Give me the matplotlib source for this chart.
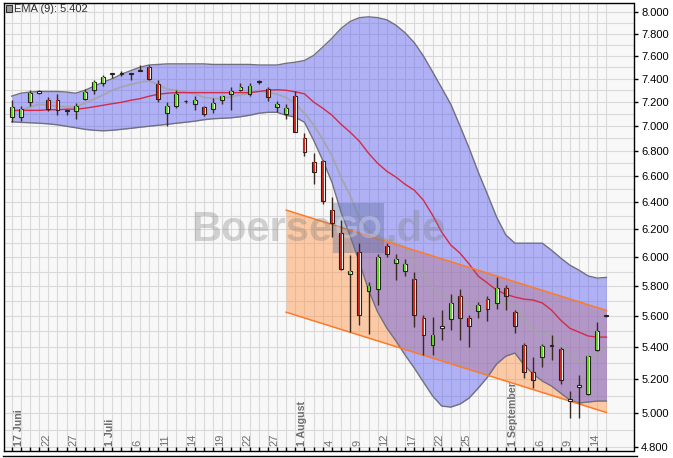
import numpy as np
import matplotlib
matplotlib.use("Agg")
import matplotlib.pyplot as plt
import matplotlib.transforms as mtransforms
from matplotlib.patches import Rectangle
from matplotlib.lines import Line2D
from matplotlib.ticker import FixedLocator, NullFormatter, FuncFormatter

plt.rcParams["font.family"] = ["Liberation Sans", "DejaVu Sans"]

# ── daily candles, trading days 16 Jun - 15 Sep 2016 (index 0..65) ─────────
opens = [7.075, 7.075, 7.20, 7.29, 7.215, 7.221, 7.13, 7.125, 7.23, 7.305,
         7.363, 7.445, 7.45, 7.445, 7.475, 7.50, 7.35, 7.11, 7.165, 7.21,
         7.18, 7.16, 7.14, 7.22, 7.265, 7.30, 7.265, 7.375, 7.31, 7.16,
         7.10, 7.255, 6.905, 6.71, 6.72, 6.34, 6.17, 5.885, 6.04, 5.77,
         5.78, 6.08, 5.96, 5.905, 5.85, 5.585, 5.41, 5.53, 5.58, 5.735,
         5.585, 5.63, 5.71, 5.685, 5.79, 5.625, 5.41, 5.245, 5.335, 5.41,
         5.385, 5.075, 5.155, 5.11, 5.38, 5.605]
highs = [7.22, 7.17, 7.305, 7.305, 7.243, 7.27, 7.135, 7.19, 7.315, 7.39,
         7.435, 7.45, 7.47, 7.45, 7.52, 7.52, 7.39, 7.20, 7.30, 7.215,
         7.25, 7.17, 7.233, 7.255, 7.33, 7.36, 7.36, 7.385, 7.325, 7.21,
         7.18, 7.29, 6.94, 6.78, 6.73, 6.44, 6.267, 6.015, 6.10, 5.83,
         6.02, 6.10, 6.02, 5.99, 5.897, 5.606, 5.595, 5.639, 5.745, 5.78,
         5.606, 5.695, 5.733, 5.863, 5.806, 5.639, 5.427, 5.339, 5.42, 5.476,
         5.401, 5.13, 5.225, 5.345, 5.561, 5.61]
lows = [7.035, 7.04, 7.17, 7.27, 7.124, 7.09, 7.09, 7.062, 7.215, 7.27,
        7.34, 7.41, 7.42, 7.39, 7.465, 7.385, 7.197, 7.00, 7.152, 7.19,
        7.13, 7.085, 7.108, 7.18, 7.13, 7.29, 7.25, 7.35, 7.21, 7.12,
        7.06, 6.95, 6.76, 6.54, 6.384, 6.146, 5.91, 5.497, 5.54, 5.486,
        5.672, 6.004, 5.841, 5.87, 5.529, 5.349, 5.349, 5.444, 5.508, 5.444,
        5.401, 5.584, 5.568, 5.645, 5.637, 5.491, 5.205, 5.144, 5.276, 5.318,
        5.17, 4.966, 4.97, 5.105, 5.374, 5.595]
closes = [7.158, 7.145, 7.277, 7.28, 7.145, 7.13, 7.125, 7.165, 7.285, 7.37,
          7.415, 7.44, 7.445, 7.44, 7.47, 7.40, 7.23, 7.17, 7.27, 7.205,
          7.215, 7.10, 7.19, 7.25, 7.295, 7.325, 7.335, 7.37, 7.245, 7.185,
          7.15, 6.95, 6.79, 6.635, 6.41, 6.245, 5.92, 5.905, 5.61, 5.80,
          6.00, 6.02, 5.99, 5.95, 5.605, 5.475, 5.475, 5.525, 5.685, 5.585,
          5.535, 5.67, 5.645, 5.785, 5.73, 5.535, 5.245, 5.195, 5.405, 5.405,
          5.195, 5.07, 5.165, 5.34, 5.505, 5.60]

ema9 = [7.12, 7.13, 7.16, 7.18, 7.175, 7.165, 7.16, 7.16, 7.19, 7.225,
        7.26, 7.30, 7.33, 7.35, 7.37, 7.38, 7.35, 7.31, 7.30, 7.285,
        7.27, 7.24, 7.23, 7.23, 7.245, 7.26, 7.275, 7.295, 7.285, 7.265,
        7.24, 7.185, 7.105, 7.01, 6.89, 6.76, 6.59, 6.45, 6.28, 6.19,
        6.15, 6.125, 6.10, 6.07, 5.975, 5.875, 5.795, 5.74, 5.73, 5.70,
        5.67, 5.665, 5.66, 5.685, 5.695, 5.665, 5.58, 5.505, 5.485, 5.47,
        5.415, 5.345, 5.31, 5.315, 5.355, 5.402]

bb_mid = [7.13, 7.13, 7.13, 7.13, 7.135, 7.135, 7.14, 7.14, 7.148, 7.16,
          7.173, 7.186, 7.198, 7.215, 7.228, 7.249, 7.266, 7.275, 7.28, 7.28,
          7.28, 7.28, 7.28, 7.28, 7.28, 7.28, 7.28, 7.29, 7.30, 7.305,
          7.30, 7.287, 7.27, 7.20, 7.148, 7.09, 7.014, 6.949, 6.876, 6.78,
          6.70, 6.638, 6.592, 6.537, 6.492, 6.416, 6.304, 6.179, 6.086, 6.029,
          5.952, 5.868, 5.821, 5.773, 5.745, 5.726, 5.712, 5.706, 5.686, 5.639,
          5.573, 5.52, 5.495, 5.47, 5.463, 5.463]
bb_up = [7.25, 7.275, 7.285, 7.29, 7.29, 7.29, 7.285, 7.275, 7.30, 7.335,
         7.37, 7.40, 7.44, 7.47, 7.50, 7.52, 7.525, 7.53, 7.53, 7.53,
         7.53, 7.53, 7.525, 7.525, 7.525, 7.525, 7.525, 7.52, 7.52, 7.52,
         7.535, 7.545, 7.56, 7.605, 7.68, 7.76, 7.85, 7.915, 7.95, 7.958,
         7.95, 7.93, 7.88, 7.81, 7.72, 7.60, 7.46, 7.32, 7.18, 7.00,
         6.82, 6.63, 6.46, 6.29, 6.16, 6.10, 6.10, 6.10, 6.10, 6.05,
         5.995, 5.945, 5.91, 5.87, 5.855, 5.86]
bb_low = [7.035, 7.03, 7.027, 7.023, 7.018, 7.01, 6.998, 6.986, 6.973, 6.965,
          6.961, 6.965, 6.973, 6.981, 6.99, 6.998, 7.006, 7.014, 7.023, 7.031,
          7.04, 7.052, 7.06, 7.064, 7.068, 7.077, 7.089, 7.106, 7.114, 7.114,
          7.089, 7.073, 7.031, 6.884, 6.724, 6.553, 6.326, 6.151, 5.966, 5.773,
          5.626, 5.521, 5.438, 5.349, 5.268, 5.182, 5.098, 5.038, 5.032, 5.05,
          5.086, 5.146, 5.212, 5.293, 5.342, 5.362, 5.287, 5.231, 5.188, 5.158,
          5.115, 5.074, 5.056, 5.062, 5.068, 5.068]

# trend channel (start / end day, upper and lower edge)
chan_x = [30, 65]
chan_upper = [6.342, 5.637]
chan_lower = [5.625, 5.0]

label_pos = [1, 4, 7, 11, 14, 17, 20, 23, 26, 29, 32, 35, 38, 41, 44, 47, 50, 55, 58, 61, 64]
label_text = ["17 Juni", "22", "27", "1 Juli", "6", "11", "14", "19", "22", "27",
              "1 August", "4", "9", "12", "17", "22", "25", "1 September", "6", "9", "14"]
month_labels = {"17 Juni", "1 Juli", "1 August", "1 September"}

y_ticks = np.round(np.arange(4.8, 8.001, 0.2), 1)
y_grid = np.round(np.arange(4.8, 8.101, 0.1), 1)

W, H = 673, 458


def px(x, y):
    return x / W, 1 - y / H


fig = plt.figure(figsize=(W / 100, H / 100), dpi=100)
ax = fig.add_axes([4 / W, 1 - 451 / H, (633.5 - 4) / W, (451 - 2.5) / H])
ax.set_facecolor("#f8f8f8")
n = len(closes)
xs = np.arange(n)

ax.set_yscale("log")
ax.set_xlim(-0.84, 67.96)
ax.set_ylim(4.779, 8.093)

# ── grid ────────────────────────────────────────────────────────────────
for x in xs:
    ax.axvline(x, color="#d9d9d9", lw=0.8, zorder=0.5)
for y in y_grid:
    ax.axhline(y, color="#d9d9d9", lw=0.8, zorder=0.5)

# ── channel + bands ─────────────────────────────────────────────────────
ax.fill_between(chan_x, chan_lower, chan_upper, color="#ff9040", alpha=0.45, lw=0, zorder=1)
ax.fill_between(xs, bb_low, bb_up, color="#5a5af0", alpha=0.45, lw=0, zorder=2)
ax.plot(xs, bb_up, color="#707080", lw=1, zorder=2.5)
ax.plot(xs, bb_low, color="#707080", lw=1, zorder=2.5)
ax.plot(xs, ema9, color="#a4a4a4", lw=1.3, alpha=0.85, zorder=3)
ax.plot(xs, bb_mid, color="#d42a4a", lw=1, zorder=3)
ax.plot(chan_x, chan_upper, color="#ff7a28", lw=1.1, zorder=3.5)
ax.plot(chan_x, chan_lower, color="#ff7a28", lw=1.1, zorder=3.5)

# ── watermark ───────────────────────────────────────────────────────────
ax.text(*px(332, 230), "Boerse", transform=fig.transFigure, ha="right", va="center",
        fontsize=30, fontweight="bold", color="#808080", alpha=0.33, zorder=4)
ax.add_patch(Rectangle(px(333, 253), 51 / W, 50 / H, transform=fig.transFigure,
                       facecolor="#6070a0", alpha=0.4, lw=0, zorder=4))
ax.text(*px(358.5, 230), "GO", transform=fig.transFigure, ha="center", va="center",
        fontsize=22, fontweight="bold", color="white", alpha=0.25, zorder=4)
ax.text(*px(385, 230), ".de", transform=fig.transFigure, ha="left", va="center",
        fontsize=30, fontweight="bold", color="#808080", alpha=0.33, zorder=4)

# ── candles ─────────────────────────────────────────────────────────────
for i in range(n):
    o, h, l, c = opens[i], highs[i], lows[i], closes[i]
    ax.vlines(i, l, h, color="#3a2a22", lw=1, zorder=5)
    lo, hi = min(o, c), max(o, c)
    doji = hi - lo < 0.012
    if hi - lo < 0.008:
        hi = lo + 0.008
    ax.add_patch(Rectangle((i - 0.21, lo), 0.42, hi - lo, facecolor="white",
                           edgecolor="#2a2020", lw=0.8, zorder=6))
    if not doji:
        col = "#5cd824" if c >= o else "#d02818"
        ax.add_patch(Rectangle((i - 0.11, lo), 0.22, hi - lo, facecolor=col,
                               lw=0, zorder=7))

# ── axes, ticks ─────────────────────────────────────────────────────────
for s in ax.spines.values():
    s.set_color("black")
    s.set_linewidth(1)

ax.yaxis.tick_right()
ax.yaxis.set_major_locator(FixedLocator(y_ticks))
ax.yaxis.set_minor_locator(FixedLocator([]))
ax.yaxis.set_major_formatter(FuncFormatter(lambda v, p: f"{v:.3f}"))
ax.yaxis.set_minor_formatter(NullFormatter())
ax.tick_params(axis="y", which="major", direction="out", length=3, width=1,
               labelsize=8, pad=2.5, colors="black")
ax.tick_params(axis="y", which="minor", length=0)

ax.set_xticks(xs)
ax.tick_params(axis="x", direction="in", length=3, width=1, labelbottom=False)

trans = mtransforms.blended_transform_factory(ax.transData, ax.transAxes)
for pos, txt in zip(label_pos, label_text):
    bold = txt in month_labels
    ax.text(pos - 0.25, 0.012, txt, transform=trans, rotation=90, ha="center", va="bottom",
            fontsize=7.7 if bold else 8, color="#6e6e6e",
            fontweight="bold" if bold else "normal", zorder=8)

# ── legend ──────────────────────────────────────────────────────────────
ax.add_patch(Rectangle(px(6, 11.5), 6 / W, 6 / H, transform=fig.transFigure,
                       facecolor="#9a9a9a", edgecolor="#303030", lw=0.8, zorder=9,
                       clip_on=False))
ax.text(*px(14.5, 9), f"EMA (9): {ema9[-1]:.3f}", transform=fig.transFigure,
        ha="left", va="center", fontsize=8, color="#303030", zorder=9)

# lower panel frame line
fig.add_artist(Line2D([3 / W, 637 / W], [1 - 456 / H, 1 - 456 / H], color="black", lw=1))

fig.savefig("out.png", dpi=100)
